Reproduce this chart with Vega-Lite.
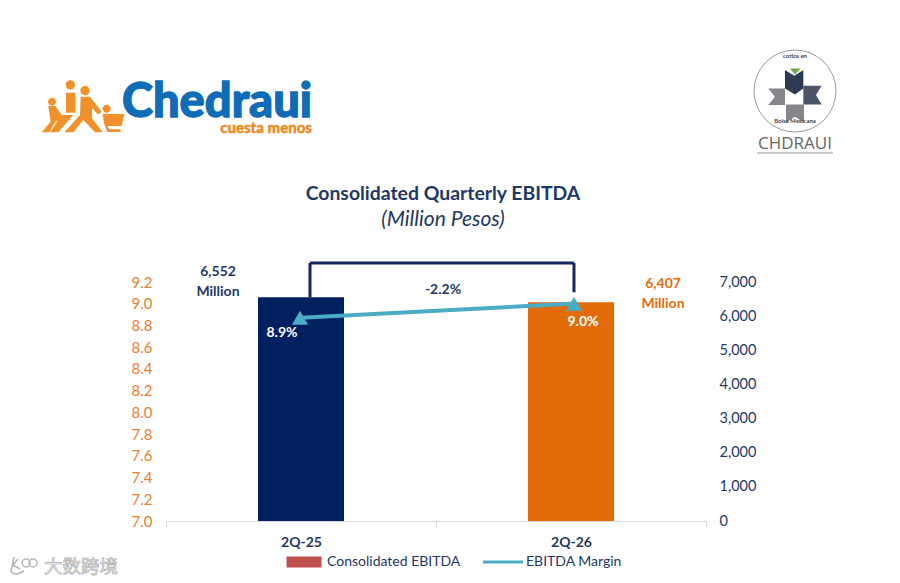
{
  "$schema": "https://vega.github.io/schema/vega-lite/v6.json",
  "width": 540,
  "height": 239,
  "autosize": {"type": "none"},
  "padding": {"left": 166, "top": 282, "right": 194, "bottom": 62},
  "background": "white",
  "config": {"font": "Lato", "view": {"stroke": null}},
  "datasets": {
    "quarters": [
      {"quarter": "2Q-25", "ebitda": 6552, "margin": 8.87},
      {"quarter": "2Q-26", "ebitda": 6407, "margin": 9.0}
    ]
  },
  "layer": [
    {
      "layer": [
        {
          "data": {"name": "quarters"},
          "mark": {"type": "bar", "size": 86},
          "encoding": {
            "x": {
              "field": "quarter",
              "type": "nominal",
              "scale": {"domain": ["2Q-25", "2Q-26"], "paddingInner": 0, "paddingOuter": 0},
              "axis": {
                "title": null,
                "labelAngle": 0,
                "labelFontSize": 14,
                "labelFontWeight": "bold",
                "labelColor": "#1f3864",
                "labelPadding": 8,
                "tickBand": "extent",
                "tickSize": 6,
                "tickColor": "#d9d9d9",
                "domainColor": "#d9d9d9"
              }
            },
            "y": {
              "field": "ebitda",
              "type": "quantitative",
              "scale": {"domain": [0, 7000], "nice": false},
              "axis": {
                "orient": "right",
                "title": null,
                "values": [0, 1000, 2000, 3000, 4000, 5000, 6000, 7000],
                "tickCount": 20,
                "format": ",d",
                "labelOverlap": false,
                "grid": false,
                "domain": false,
                "ticks": false,
                "labelFontSize": 14.5,
                "labelColor": "#1f3864",
                "labelPadding": 13
              }
            },
            "fill": {
              "field": "quarter",
              "type": "nominal",
              "scale": {"domain": ["2Q-25", "2Q-26"], "range": ["#002060", "#e36c0a"]},
              "legend": null
            }
          }
        },
        {
          "data": {"values": [{"series": "Consolidated EBITDA"}, {"series": "EBITDA Margin"}]},
          "mark": {"type": "point", "filled": true, "opacity": 0},
          "encoding": {
            "color": {
              "field": "series",
              "type": "nominal",
              "scale": {"domain": ["Consolidated EBITDA", "EBITDA Margin"], "range": ["#c0504d", "#4bacc6"]},
              "legend": {
                "title": null,
                "orient": "none",
                "legendX": 118,
                "legendY": 260,
                "direction": "horizontal",
                "columns": 2,
                "columnPadding": 22,
                "symbolSize": 1600,
                "symbolOpacity": 1,
                "symbolStrokeWidth": 0,
                "labelFontSize": 14,
                "labelColor": "#1f3864",
                "labelOffset": 3,
                "encode": {
                  "symbols": {
                    "update": {
                      "shape": {"signal": "datum.value === 'EBITDA Margin' ? 'M-1,-0.08H1V0.08H-1Z' : 'M-0.875,-0.275H0.875V0.275H-0.875Z'"},
                      "opacity": {"value": 1}
                    }
                  }
                }
              }
            }
          }
        },
        {
          "data": {"values": [{"note": "Consolidated Quarterly EBITDA"}]},
          "mark": {"type": "text", "fontSize": 19.4, "fontWeight": "bold", "color": "#1f3864", "dx": 142, "baseline": "middle"},
          "encoding": {
            "x": {"datum": "2Q-25", "type": "nominal"},
            "y": {"datum": 9577, "type": "quantitative"},
            "text": {"field": "note"}
          }
        },
        {
          "data": {"values": [{"note": "(Million Pesos)"}]},
          "mark": {"type": "text", "fontSize": 21, "fontStyle": "italic", "color": "#1f3864", "dx": 142, "baseline": "middle"},
          "encoding": {
            "x": {"datum": "2Q-25", "type": "nominal"},
            "y": {"datum": 8816, "type": "quantitative"},
            "text": {"field": "note"}
          }
        },
        {
          "data": {"values": [{}]},
          "mark": {"type": "rule", "color": "#14275f", "strokeWidth": 3, "xOffset": 9, "x2Offset": 3},
          "encoding": {
            "x": {"datum": "2Q-25", "type": "nominal"},
            "x2": {"datum": "2Q-26"},
            "y": {"datum": 7556, "type": "quantitative"}
          }
        },
        {
          "data": {"values": [{}]},
          "mark": {"type": "rule", "color": "#14275f", "strokeWidth": 3, "xOffset": 9},
          "encoding": {
            "x": {"datum": "2Q-25", "type": "nominal"},
            "y": {"datum": 7556, "type": "quantitative"},
            "y2": {"datum": 6552}
          }
        },
        {
          "data": {"values": [{}]},
          "mark": {"type": "rule", "color": "#14275f", "strokeWidth": 3, "xOffset": 3},
          "encoding": {
            "x": {"datum": "2Q-26", "type": "nominal"},
            "y": {"datum": 7556, "type": "quantitative"},
            "y2": {"datum": 6700}
          }
        },
        {
          "data": {"values": [{"note": "6,552\nMillion"}]},
          "mark": {"type": "text", "lineBreak": "\n", "lineHeight": 20, "fontSize": 14, "fontWeight": "bold", "color": "#1f3864", "dx": -83, "baseline": "middle"},
          "encoding": {
            "x": {"datum": "2Q-25", "type": "nominal"},
            "y": {"datum": 7288, "type": "quantitative"},
            "text": {"field": "note"}
          }
        },
        {
          "data": {"values": [{"note": "6,407\nMillion"}]},
          "mark": {"type": "text", "lineBreak": "\n", "lineHeight": 20, "fontSize": 14, "fontWeight": "bold", "color": "#e36c0a", "dx": 92, "baseline": "middle"},
          "encoding": {
            "x": {"datum": "2Q-26", "type": "nominal"},
            "y": {"datum": 6938, "type": "quantitative"},
            "text": {"field": "note"}
          }
        },
        {
          "data": {"values": [{"note": "-2.2%"}]},
          "mark": {"type": "text", "fontSize": 14, "fontWeight": "bold", "color": "#1f3864", "dx": 142},
          "encoding": {
            "x": {"datum": "2Q-25", "type": "nominal"},
            "y": {"datum": 6775, "type": "quantitative"},
            "text": {"field": "note"}
          }
        },
        {
          "data": {"values": [{"note": "Chedraui"}]},
          "mark": {"type": "text", "fontSize": 47, "fontWeight": 900, "color": "#0f6cb6", "stroke": "#0f6cb6", "strokeWidth": 1.3, "dx": -84, "baseline": "middle", "letterSpacing": -1},
          "encoding": {
            "x": {"datum": "2Q-25", "type": "nominal"},
            "y": {"datum": 12250, "type": "quantitative"},
            "text": {"field": "note"}
          }
        },
        {
          "data": {"values": [{"note": "cuesta menos"}]},
          "mark": {"type": "text", "fontSize": 15, "fontWeight": 900, "color": "#ee8a24", "stroke": "#ee8a24", "strokeWidth": 0.4, "dx": 11, "align": "right", "baseline": "middle"},
          "encoding": {
            "x": {"datum": "2Q-25", "type": "nominal"},
            "y": {"datum": 11500, "type": "quantitative"},
            "text": {"field": "note"}
          }
        },
        {
          "data": {"values": [{}]},
          "mark": {
            "type": "point",
            "filled": true,
            "color": "#f0912c",
            "opacity": 1,
            "size": 0.4444,
            "xOffset": -271,
            "shape": "M107,135a14,14 0 1,0 28,0a14,14 0 1,0 -28,0Z M151,152a14,14 0 1,0 28,0a14,14 0 1,0 -28,0Z M54,185a12,12 0 1,0 24,0a12,12 0 1,0 -24,0Z M218,206a12,12 0 1,0 24,0a12,12 0 1,0 -24,0Z M108,158H136V218H108Z M95,225H130L85,277H60Z M152,170H180L215,215L205,224L186,205V235L218,277H195L160,240L130,277H103L150,225Z M55,198H76L100,232L76,246L58,277H35L62,245Z M218,222H283L275,258H232L238,268H272V276H232L222,250Z"
          },
          "encoding": {
            "x": {"datum": "2Q-25", "type": "nominal"},
            "y": {"datum": 14087, "type": "quantitative"}
          }
        },
        {
          "data": {"values": [{}]},
          "mark": {
            "type": "point",
            "filled": false,
            "stroke": "#999999",
            "strokeWidth": 1,
            "opacity": 1,
            "size": 6724,
            "shape": "circle",
            "xOffset": 224
          },
          "encoding": {
            "x": {"datum": "2Q-26", "type": "nominal"},
            "y": {"datum": 12594, "type": "quantitative"}
          }
        },
        {
          "data": {"values": [{}]},
          "mark": {
            "type": "point",
            "filled": true,
            "color": "#2e3a55",
            "opacity": 1,
            "size": 0.4444,
            "xOffset": 169,
            "shape": "M135,75L163,92L190,75V130L165,148L135,130Z"
          },
          "encoding": {
            "x": {"datum": "2Q-26", "type": "nominal"},
            "y": {"datum": 13940, "type": "quantitative"}
          }
        },
        {
          "data": {"values": [{}]},
          "mark": {
            "type": "point",
            "filled": true,
            "color": "#6aa84f",
            "opacity": 1,
            "size": 0.4444,
            "xOffset": 169,
            "shape": "M150,70H182L165,88Z"
          },
          "encoding": {
            "x": {"datum": "2Q-26", "type": "nominal"},
            "y": {"datum": 13940, "type": "quantitative"}
          }
        },
        {
          "data": {"values": [{}]},
          "mark": {
            "type": "point",
            "filled": true,
            "color": "#85858c",
            "opacity": 1,
            "size": 0.4444,
            "xOffset": 169,
            "shape": "M85,130H135V180H85L105,155Z M138,178H192V232L165,215L138,232Z"
          },
          "encoding": {
            "x": {"datum": "2Q-26", "type": "nominal"},
            "y": {"datum": 13940, "type": "quantitative"}
          }
        },
        {
          "data": {"values": [{}]},
          "mark": {
            "type": "point",
            "filled": true,
            "color": "#4d5468",
            "opacity": 1,
            "size": 0.4444,
            "xOffset": 169,
            "shape": "M190,122H245L228,150L245,178H190Z"
          },
          "encoding": {
            "x": {"datum": "2Q-26", "type": "nominal"},
            "y": {"datum": 13940, "type": "quantitative"}
          }
        },
        {
          "data": {"values": [{"note": "cotiza en"}]},
          "mark": {"type": "text", "fontSize": 6, "fontWeight": "bold", "color": "#444444", "dx": 224},
          "encoding": {
            "x": {"datum": "2Q-26", "type": "nominal"},
            "y": {"datum": 13619, "type": "quantitative"},
            "text": {"field": "note"}
          }
        },
        {
          "data": {"values": [{"note": "Bolsa Mexicana"}]},
          "mark": {"type": "text", "fontSize": 6, "fontWeight": "bold", "color": "#444444", "dx": 224},
          "encoding": {
            "x": {"datum": "2Q-26", "type": "nominal"},
            "y": {"datum": 11715, "type": "quantitative"},
            "text": {"field": "note"}
          }
        },
        {
          "data": {"values": [{"note": "CHDRAUI"}]},
          "mark": {"type": "text", "font": "Open Sans", "fontSize": 17, "color": "#666666", "dx": 224, "letterSpacing": 1},
          "encoding": {
            "x": {"datum": "2Q-26", "type": "nominal"},
            "y": {"datum": 11030, "type": "quantitative"},
            "text": {"field": "note"}
          }
        },
        {
          "data": {"values": [{}]},
          "mark": {"type": "rule", "color": "#999999", "strokeWidth": 1, "xOffset": 186, "x2Offset": 262},
          "encoding": {
            "x": {"datum": "2Q-26", "type": "nominal"},
            "x2": {"datum": "2Q-26"},
            "y": {"datum": 10780, "type": "quantitative"}
          }
        },
        {
          "data": {"values": [{}]},
          "mark": {
            "type": "point",
            "filled": false,
            "stroke": "#b5b5b5",
            "strokeWidth": 1.5,
            "opacity": 1,
            "size": 4,
            "xOffset": -301,
            "shape": "M14,4L11,18Q14,24 24,18M18,6L13,12L20,16M26,6a4,4 0 1,0 0.1,0M33,6a4,4 0 1,0 0.1,0"
          },
          "encoding": {
            "x": {"datum": "2Q-25", "type": "nominal"},
            "y": {"datum": -937, "type": "quantitative"}
          }
        },
        {
          "data": {"values": [{"note": "大数跨境"}]},
          "mark": {"type": "text", "font": "Noto Sans CJK SC", "fontSize": 18.5, "color": "#f4f4f4", "stroke": "#adadad", "strokeWidth": 0.7, "dx": -220, "baseline": "middle"},
          "encoding": {
            "x": {"datum": "2Q-25", "type": "nominal"},
            "y": {"datum": -1340, "type": "quantitative"},
            "text": {"field": "note"}
          }
        }
      ]
    },
    {
      "layer": [
        {
          "data": {"name": "quarters"},
          "mark": {"type": "line", "color": "#4bacc6", "strokeWidth": 4},
          "encoding": {
            "x": {"field": "quarter", "type": "nominal"},
            "y": {
              "field": "margin",
              "type": "quantitative",
              "scale": {"domain": [7, 9.2], "nice": false, "zero": false},
              "axis": {
                "orient": "left",
                "title": null,
                "values": [7, 7.2, 7.4, 7.6, 7.8, 8, 8.2, 8.4, 8.6, 8.8, 9, 9.2],
                "tickCount": 20,
                "format": ".1f",
                "labelOverlap": false,
                "grid": false,
                "domain": false,
                "ticks": false,
                "labelFontSize": 15,
                "labelColor": "#e97e2e",
                "labelPadding": 14
              }
            }
          }
        },
        {
          "data": {"name": "quarters"},
          "transform": [{"filter": "datum.quarter === '2Q-25'"}],
          "mark": {"type": "point", "shape": "triangle-up", "filled": true, "color": "#4bacc6", "opacity": 1, "size": 260, "xOffset": -1},
          "encoding": {
            "x": {"field": "quarter", "type": "nominal"},
            "y": {"field": "margin", "type": "quantitative"}
          }
        },
        {
          "data": {"name": "quarters"},
          "transform": [{"filter": "datum.quarter === '2Q-26'"}],
          "mark": {"type": "point", "shape": "triangle-up", "filled": true, "color": "#4bacc6", "opacity": 1, "size": 260, "xOffset": 3},
          "encoding": {
            "x": {"field": "quarter", "type": "nominal"},
            "y": {"field": "margin", "type": "quantitative"}
          }
        },
        {
          "data": {"values": [{"note": "8.9%"}]},
          "mark": {"type": "text", "fontSize": 14, "fontWeight": "bold", "color": "white", "dx": -19},
          "encoding": {
            "x": {"datum": "2Q-25", "type": "nominal"},
            "y": {"datum": 8.73, "type": "quantitative"},
            "text": {"field": "note"}
          }
        },
        {
          "data": {"values": [{"note": "9.0%"}]},
          "mark": {"type": "text", "fontSize": 14, "fontWeight": "bold", "color": "white", "dx": 12},
          "encoding": {
            "x": {"datum": "2Q-26", "type": "nominal"},
            "y": {"datum": 8.83, "type": "quantitative"},
            "text": {"field": "note"}
          }
        }
      ]
    }
  ],
  "resolve": {"scale": {"y": "independent"}}
}
